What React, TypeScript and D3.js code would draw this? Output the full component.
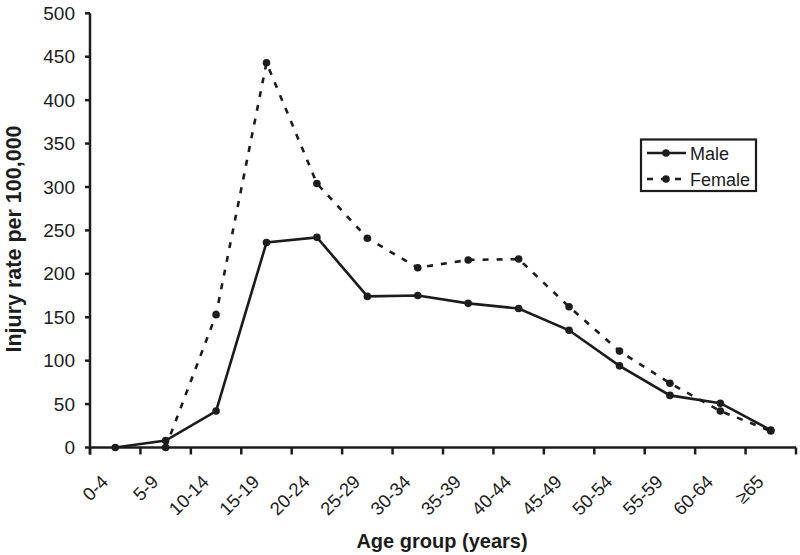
import React from "react";
import * as d3 from "d3";

const categories = ["0-4", "5-9", "10-14", "15-19", "20-24", "25-29", "30-34", "35-39", "40-44", "45-49", "50-54", "55-59", "60-64", "≥65"];
const maleValues: (number | null)[] = [0, 8, 42, 236, 242, 174, 175, 166, 160, 135, 94, 60, 51, 20];
const femaleValues: (number | null)[] = [null, 0, 153, 443, 304, 241, 207, 216, 217, 162, 111, 74, 42, 19];
const yTicks = [0, 50, 100, 150, 200, 250, 300, 350, 400, 450, 500];

const W = 800, H = 555;
const left = 90, right = 796, top = 13.3, bottom = 447.5;
const ink = "#1c1c1c";
const font = "Liberation Sans, Arial, Helvetica, sans-serif";

export default function App() {
  const xBand = d3.scaleBand<string>().domain(categories).range([left, right]).paddingInner(0).paddingOuter(0);
  const xc = (c: string) => (xBand(c) as number) + xBand.bandwidth() / 2;
  const y = d3.scaleLinear().domain([0, 500]).range([bottom, top]);

  const mk = (vals: (number | null)[]) =>
    d3.line<number | null>()
      .defined((d) => d !== null)
      .x((_, i) => xc(categories[i]))
      .y((d) => y(d as number))(vals) as string;

  const boundaries = categories.map((c) => xBand(c) as number).concat([right]);

  return (
    <svg width={W} height={H} style={{ position: "absolute", left: 0, top: 0, background: "#fff" }} fontFamily={font}>
      {/* Female dashed line */}
      <path d={mk(femaleValues)} fill="none" stroke={ink} strokeWidth={2.6} strokeDasharray="6,8" />
      {/* Male solid line */}
      <path d={mk(maleValues)} fill="none" stroke={ink} strokeWidth={2.6} />
      {femaleValues.map((v, i) => v === null ? null : (
        <circle key={"f" + i} cx={xc(categories[i])} cy={y(v)} r={3.8} fill={ink} />
      ))}
      {maleValues.map((v, i) => v === null ? null : (
        <circle key={"m" + i} cx={xc(categories[i])} cy={y(v)} r={3.8} fill={ink} />
      ))}

      {/* Y axis */}
      <line x1={left} x2={left} y1={top} y2={bottom + 7} stroke={ink} strokeWidth={2.5} />
      {yTicks.map((t) => (
        <g key={"y" + t}>
          <line x1={left - 5} x2={left} y1={y(t)} y2={y(t)} stroke={ink} strokeWidth={2.5} />
          <text x={75} y={y(t)} dy="0.35em" textAnchor="end" fontSize={19} fill={ink}>{t}</text>
        </g>
      ))}

      {/* X axis */}
      <line x1={left} x2={right} y1={bottom} y2={bottom} stroke={ink} strokeWidth={2.5} />
      {boundaries.map((b, i) => (
        <line key={"xt" + i} x1={b} x2={b} y1={bottom} y2={bottom + 7} stroke={ink} strokeWidth={2.5} />
      ))}
      {categories.map((c) => (
        <text key={"xl" + c} transform={`translate(${xc(c) - 6},${483}) rotate(-45)`} textAnchor="end" fontSize={18.5} fill={ink}>{c}</text>
      ))}

      {/* Axis titles */}
      <text x={442} y={548} textAnchor="middle" fontSize={20} fontWeight="bold" fill={ink}>Age group (years)</text>
      <text transform={`translate(20.5,239) rotate(-90)`} textAnchor="middle" fontSize={21.5} fontWeight="bold" fill={ink}>Injury rate per 100,000</text>

      {/* Legend */}
      <rect x={641} y={139.5} width={115} height={51.5} fill="#fff" stroke={ink} strokeWidth={2.2} />
      <line x1={647} x2={686} y1={153} y2={153} stroke={ink} strokeWidth={2.6} />
      <circle cx={666} cy={153} r={3.8} fill={ink} />
      <text x={690} y={159.5} fontSize={18} fill={ink}>Male</text>
      <line x1={647} x2={686} y1={179} y2={179} stroke={ink} strokeWidth={2.6} strokeDasharray="6,8" strokeDashoffset={0} />
      <circle cx={666} cy={179} r={3.8} fill={ink} />
      <text x={690} y={185.5} fontSize={18} fill={ink}>Female</text>
    </svg>
  );
}
